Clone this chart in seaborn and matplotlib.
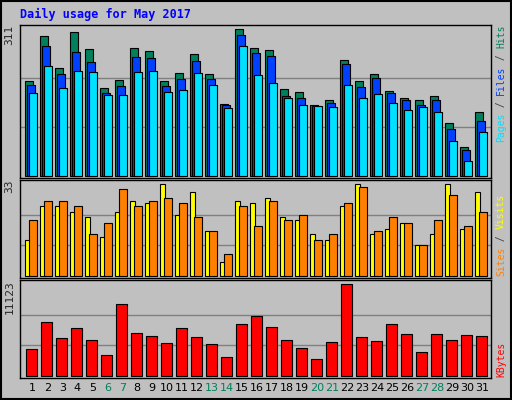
import matplotlib
matplotlib.use("Agg")
import matplotlib.pyplot as plt
import numpy as np
import seaborn as sns

days = np.arange(1, 32)
hits = [201, 297, 228, 305, 269, 186, 203, 271, 264, 201, 218, 258, 216, 152, 311, 271,
        267, 184, 178, 150, 161, 245, 201, 216, 180, 165, 161, 169, 112, 61, 135]
files = [193, 275, 216, 262, 241, 176, 190, 252, 250, 191, 205, 243, 205, 150, 299, 260,
         254, 169, 165, 148, 154, 237, 188, 207, 176, 161, 150, 161, 99, 55, 116]
pages = [176, 233, 186, 222, 220, 171, 171, 220, 222, 178, 182, 218, 193, 144, 275, 214,
         197, 165, 150, 148, 146, 193, 165, 173, 154, 140, 146, 135, 74, 32, 93]
visits = [13, 25, 25, 23, 21, 14, 23, 27, 26, 33, 22, 30, 16, 5, 27, 26,
          28, 21, 20, 15, 13, 25, 33, 15, 17, 19, 11, 15, 33, 17, 30]
sites = [20, 27, 27, 25, 15, 19, 31, 25, 27, 28, 26, 21, 16, 8, 25, 18,
         27, 20, 22, 13, 15, 26, 32, 16, 21, 19, 11, 20, 29, 18, 23]
kbytes = [3207, 6495, 4547, 5765, 4303, 2476, 8687, 5156, 4790, 3938, 5765, 4668, 3816, 2233,
          6252, 7226, 5886, 4303, 3329, 1989, 4060, 11123, 4668, 4181, 6252, 5034, 2842,
          5034, 4303, 4912, 4790]
weekend = [6, 7, 13, 14, 20, 21, 27, 28]

GREEN, BLUE, CYAN = "#00805c", "#0040ff", "#00e0ff"
YELLOW, ORANGE, RED = "#ffff00", "#ff8000", "#ff0000"
BG = "#c0c0c0"
MONO = "DejaVu Sans Mono"

sns.set_style("white")
fig = plt.figure(figsize=(5.12, 4.0), dpi=100, facecolor=BG)

W, H = 512.0, 400.0


def make_ax(top, bottom):
    return fig.add_axes([20 / W, 1 - bottom / H, 471 / W, (bottom - top) / H], facecolor=BG)


def bars(ax, offset, vals, width, color):
    sns.barplot(x=days + offset, y=vals, native_scale=True, width=width, color=color,
                saturation=1, edgecolor="black", linewidth=0.8, ax=ax)


def style(ax, top, ylim):
    ax.set_xlim(0.28, 31.68)
    ax.set_ylim(*ylim)
    for g in (top / 3, 2 * top / 3):
        ax.axhline(g, color="#808080", lw=1, zorder=0)
    ax.set_xticks([])
    ax.set_yticks([])
    for s in ax.spines.values():
        s.set_color("black")
        s.set_linewidth(1)
    ax.text(-0.012, 1.0, str(top), transform=ax.transAxes, rotation=90, ha="right",
            va="top", family=MONO, fontsize=8)


ax1 = make_ax(25, 178)
bars(ax1, -0.13, hits, 0.51, GREEN)
bars(ax1, 0.0, files, 0.51, BLUE)
bars(ax1, 0.13, pages, 0.51, CYAN)
style(ax1, 311, (-4.2, 319.5))

ax2 = make_ax(180, 278)
bars(ax2, -0.23, visits, 0.31, YELLOW)
bars(ax2, 0.13, sites, 0.51, ORANGE)
style(ax2, 33, (-0.7, 34.4))

ax3 = make_ax(280, 378)
bars(ax3, 0.05, kbytes, 0.69, RED)
style(ax3, 11123, (-280, 11647))

for d in days:
    ax3.text(d + 0.1, -0.055, str(d), transform=ax3.get_xaxis_transform(), ha="center",
             va="top", fontsize=8, color=GREEN if d in weekend else "black")

fig.text(20 / W, 1 - 14 / H, "Daily usage for May 2017", color="#0000ff", family=MONO,
         fontweight="bold", fontsize=8.5, va="center", ha="left")

SIDE_FS = 7.0
STEP = 0.602 * SIDE_FS * 100 / 72  # monospace advance in pixels


def side_label(parts, y_bottom):
    y = y_bottom
    for txt, col in parts:
        fig.text(501 / W, 1 - y / H, txt, rotation=90, color=col, family=MONO,
                 fontsize=SIDE_FS, ha="center", va="bottom")
        y -= len(txt) * STEP


side_label([("Pages", CYAN), (" / ", "#404040"), ("Files", BLUE), (" / ", "#404040"),
            ("Hits", GREEN)], 142)
side_label([("Sites", ORANGE), (" / ", "#404040"), ("Visits", YELLOW)], 276)
side_label([("KBytes", RED)], 377)

fig.add_artist(plt.Rectangle((1 / W, 1 / H), 1 - 2 / W, 1 - 2 / H, transform=fig.transFigure,
                             fill=False, edgecolor="black", lw=1.5))
fig.savefig("out.png", dpi=100, facecolor=BG)
